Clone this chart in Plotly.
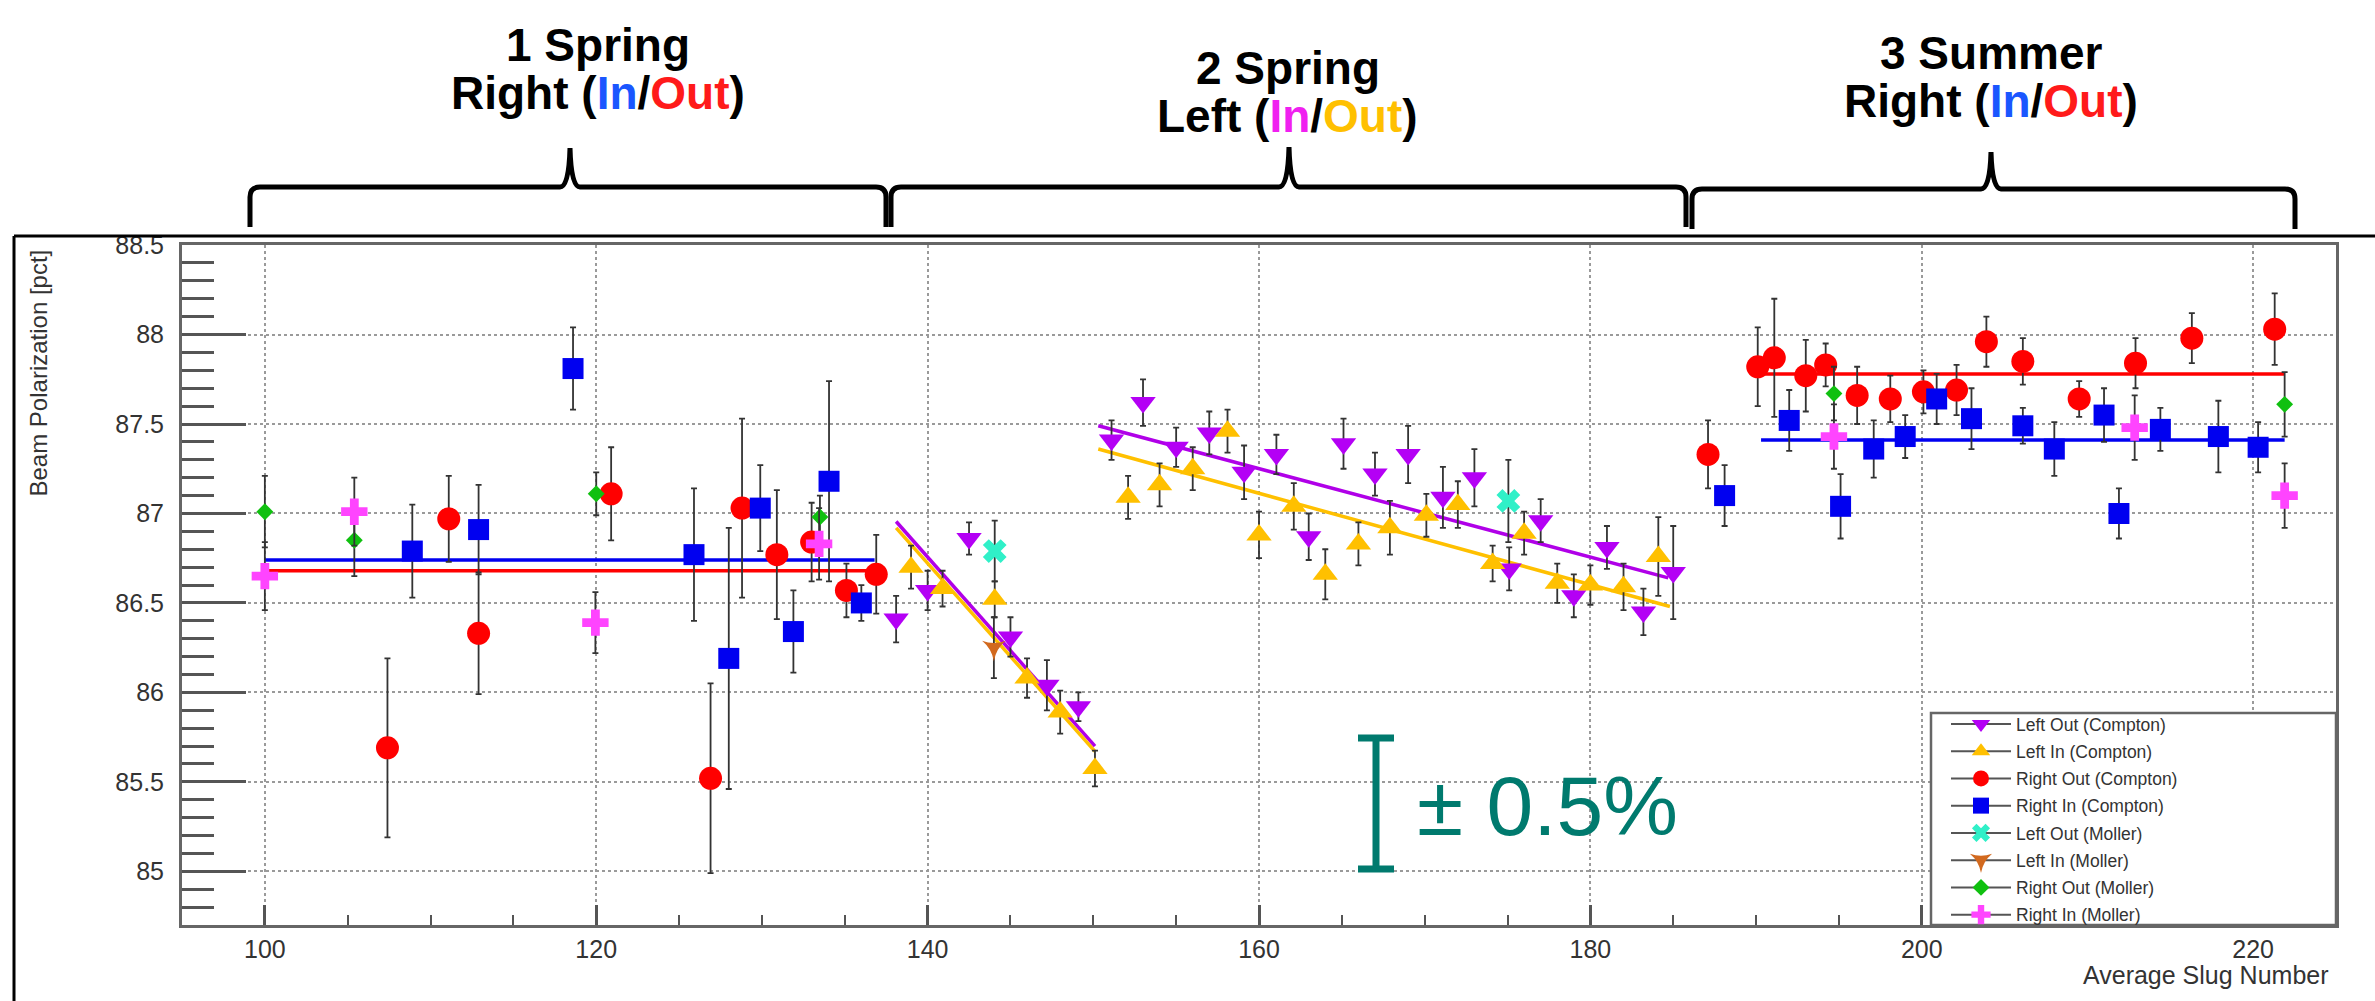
import plotly.graph_objects as go

# ---------------- data ----------------
# Left Out (Compton)
lo_c_x = [138.1, 140.0, 142.5, 145.0, 147.2, 149.1, 151.1, 153.0, 155.0, 157.0, 159.1, 161.05,
          163.0, 165.1, 167.0, 169.0, 171.1, 173.0, 175.1, 177.0, 179.0, 181.0, 183.2, 185.0]
lo_c_y = [86.41, 86.57, 86.86, 86.31, 86.04, 85.92, 87.41, 87.62, 87.37, 87.45, 87.23, 87.33,
          86.87, 87.39, 87.22, 87.33, 87.09, 87.20, 86.69, 86.96, 86.54, 86.81, 86.45, 86.67]
lo_c_e = [0.13, 0.11, 0.09, 0.11, 0.14, 0.08, 0.11, 0.13, 0.11, 0.12, 0.15, 0.11,
          0.13, 0.14, 0.12, 0.16, 0.17, 0.16, 0.12, 0.12, 0.12, 0.12, 0.13, 0.26]
# Left In (Compton)
li_c_x = [139.0, 140.9, 144.05, 146.0, 148.0, 150.1, 152.1, 154.0, 156.0, 158.1, 160.0, 162.1,
          164.0, 166.0, 167.9, 170.1, 172.0, 174.1, 176.0, 178.0, 180.0, 182.0, 184.1]
li_c_y = [86.70, 86.58, 86.52, 86.08, 85.89, 85.575, 87.09, 87.16, 87.25, 87.46, 86.88, 87.04,
          86.66, 86.83, 86.92, 86.99, 87.05, 86.72, 86.89, 86.61, 86.60, 86.59, 86.76]
li_c_e = [0.12, 0.10, 0.10, 0.11, 0.12, 0.10, 0.12, 0.12, 0.12, 0.12, 0.13, 0.13,
          0.14, 0.12, 0.15, 0.12, 0.13, 0.10, 0.12, 0.11, 0.11, 0.13, 0.22]
# Right Out (Compton)
ro_c_x = [107.4, 111.1, 112.9, 120.9, 126.9, 128.8, 130.9, 133.0, 135.1, 136.9,
          187.1, 190.1, 191.1, 193.0, 194.2, 196.1, 198.1, 200.1, 202.1, 203.9, 206.1,
          209.5, 212.9, 216.3, 221.3]
ro_c_y = [85.69, 86.97, 86.33, 87.11, 85.52, 87.03, 86.77, 86.84, 86.57, 86.66,
          87.33, 87.82, 87.87, 87.77, 87.83, 87.66, 87.64, 87.68, 87.69, 87.96, 87.85,
          87.64, 87.84, 87.98, 88.03]
ro_c_e = [0.50, 0.24, 0.34, 0.26, 0.53, 0.50, 0.36, 0.22, 0.15, 0.22,
          0.19, 0.22, 0.33, 0.20, 0.12, 0.16, 0.13, 0.12, 0.14, 0.14, 0.13,
          0.10, 0.14, 0.14, 0.20]
# Right In (Compton)
ri_c_x = [108.9, 112.9, 118.6, 125.9, 128.0, 129.9, 131.9, 134.05, 136.0,
          188.1, 192.0, 195.1, 197.1, 199.0, 200.9, 203.0, 206.1, 208.0, 211.0, 211.9,
          214.4, 217.9, 220.3]
ri_c_y = [86.79, 86.91, 87.81, 86.77, 86.19, 87.03, 86.34, 87.18, 86.50,
          87.10, 87.52, 87.04, 87.36, 87.43, 87.64, 87.53, 87.49, 87.36, 87.55, 87.00,
          87.47, 87.43, 87.37]
ri_c_e = [0.26, 0.25, 0.23, 0.37, 0.73, 0.24, 0.23, 0.56, 0.10,
          0.17, 0.17, 0.18, 0.16, 0.12, 0.14, 0.17, 0.10, 0.15, 0.15, 0.14,
          0.12, 0.20, 0.14]
# Moller
lo_m_x = [144.05, 175.05]
lo_m_y = [86.79, 87.07]
lo_m_e = [0.17, 0.23]
li_m_x = [144.0]
li_m_y = [86.25]
li_m_e = [0.17]
ro_m_x = [100.0, 105.4, 120.0, 133.5, 194.7, 221.9]
ro_m_y = [87.01, 86.85, 87.11, 86.98, 87.67, 87.61]
ro_m_e = [0.20, 0.20, 0.12, 0.12, 0.15, 0.18]
ri_m_x = [100.0, 105.4, 119.95, 133.45, 194.7, 212.85, 221.9]
ri_m_y = [86.65, 87.01, 86.39, 86.83, 87.43, 87.48, 87.10]
ri_m_e = [0.19, 0.19, 0.17, 0.20, 0.18, 0.18, 0.18]

# fit lines: (x start, x end, y start, y end)
fit_names = ["Right In fit 1", "Right Out fit 1", "Left Out fit 2a", "Left In fit 2a",
             "Left Out fit 2b", "Left In fit 2b", "Right Out fit 3", "Right In fit 3"]
fit_x0 = [100.0, 100.0, 138.1, 138.1, 150.3, 150.3, 190.3, 190.3]
fit_x1 = [136.8, 136.8, 150.1, 150.1, 184.7, 184.8, 221.9, 221.9]
fit_y0 = [86.74, 86.68, 86.955, 86.92, 87.49, 87.36, 87.78, 87.41]
fit_y1 = [86.74, 86.68, 85.70, 85.67, 86.64, 86.48, 87.78, 87.41]
fit_colors = ["#0000F0", "#FF0000", "#B000E8", "#FFC000", "#B000E8", "#FFC000", "#FF0000", "#0000F0"]

# ---------------- layout helpers ----------------
W, H = 2375, 1001
L, R, T, B = 182, 39, 245, 76
PW, PH = W - L - R, H - T - B


def px(x):
    return (x - L) / PW


def py(y):
    return (H - B - y) / PH


fig = go.Figure()

for i in range(len(fit_names)):
    fig.add_trace(go.Scatter(x=[fit_x0[i], fit_x1[i]], y=[fit_y0[i], fit_y1[i]], mode="lines",
                             line=dict(color=fit_colors[i], width=3.5), showlegend=False,
                             hoverinfo="skip"))


def series(xs, ys, es, name, symbol, color, size):
    X, Y, E = [], [], []
    for x, y, e in zip(xs, ys, es):
        X += [x, None]
        Y += [y, None]
        E += [e, 0]
    fig.add_trace(go.Scatter(
        x=X, y=Y, mode="lines+markers", name=name, connectgaps=False, legendgroup=name,
        line=dict(color="#555555", width=2),
        marker=dict(symbol=symbol, color=color, size=size, line=dict(width=0)),
        error_y=dict(type="data", array=E, visible=True, color="#333333", thickness=1.8, width=3),
    ))


series(lo_c_x, lo_c_y, lo_c_e, "Left Out (Compton)", "triangle-down", "#B400F5", 22)
series(li_c_x, li_c_y, li_c_e, "Left In (Compton)", "triangle-up", "#FFC000", 22)
series(ro_c_x, ro_c_y, ro_c_e, "Right Out (Compton)", "circle", "#FF0000", 23)
series(ri_c_x, ri_c_y, ri_c_e, "Right In (Compton)", "square", "#0000F0", 21)
series(lo_m_x, lo_m_y, lo_m_e, "Left Out (Moller)", "x", "#30F0C8", 21)
series(li_m_x, li_m_y, li_m_e, "Left In (Moller)", "star-triangle-down", "#D2691E", 17)
series(ro_m_x, ro_m_y, ro_m_e, "Right Out (Moller)", "diamond", "#10C010", 13)
series(ri_m_x, ri_m_y, ri_m_e, "Right In (Moller)", "cross", "#FF44FF", 22)

axis_common = dict(showline=True, linecolor="#666666", linewidth=3, mirror=True, zeroline=False,
                   showgrid=True, gridcolor="#9a9a9a", griddash="dot", gridwidth=1.5,
                   ticks="inside", tickcolor="#555555",
                   tickfont=dict(family="Liberation Sans, Arial", size=25, color="#333333"))

fig.update_layout(
    width=W, height=H, margin=dict(l=L, r=R, t=T, b=B, pad=0),
    plot_bgcolor="white", paper_bgcolor="white",
    font=dict(family="Liberation Sans, Arial", color="#333333"),
    xaxis=dict(range=[95, 225], tickmode="linear", tick0=100, dtick=20, ticklen=20, tickwidth=2.5,
               minor=dict(tick0=100, dtick=5, ticklen=10, tickwidth=2, ticks="inside",
                          tickcolor="#555555", showgrid=False),
               **axis_common),
    yaxis=dict(range=[84.7, 88.5005], tickmode="linear", tick0=85, dtick=0.5, ticklen=64, tickwidth=3,
               ticklabelstandoff=10,
               minor=dict(tick0=85, dtick=0.1, ticklen=32, tickwidth=2.5, ticks="inside",
                          tickcolor="#555555", showgrid=False),
               **axis_common),
    legend=dict(x=px(1946), y=py(706), xanchor="left", yanchor="top",
                bgcolor="rgba(0,0,0,0)", borderwidth=0, tracegroupgap=1.5,
                font=dict(family="Liberation Sans, Arial", size=17.5, color="#333333"),
                itemwidth=60),
    showlegend=True,
)

shapes = []
# outer frame lines (top + left)
shapes.append(dict(type="line", xref="paper", yref="paper", x0=px(14), x1=px(2375), y0=py(236), y1=py(236),
                   line=dict(color="black", width=3)))
shapes.append(dict(type="line", xref="paper", yref="paper", x0=px(14), x1=px(14), y0=py(236), y1=py(1001),
                   line=dict(color="black", width=3)))
# legend box
shapes.append(dict(type="rect", xref="paper", yref="paper", x0=px(1931), x1=1.0, y0=0.0, y1=py(713),
                   fillcolor="white", line=dict(color="#666666", width=2.5), layer="above"))


def brace(x0, x1, xc, ybar, yend, ypeak):
    r = 10
    pts = [
        f"M {px(x0)},{py(yend)}",
        f"L {px(x0)},{py(ybar + r)}",
        f"Q {px(x0)},{py(ybar)} {px(x0 + r)},{py(ybar)}",
        f"L {px(xc - r)},{py(ybar)}",
        f"Q {px(xc - 1)},{py(ybar)} {px(xc)},{py(ypeak)}",
        f"Q {px(xc + 1)},{py(ybar)} {px(xc + r)},{py(ybar)}",
        f"L {px(x1 - r)},{py(ybar)}",
        f"Q {px(x1)},{py(ybar)} {px(x1)},{py(ybar + r)}",
        f"L {px(x1)},{py(yend)}",
    ]
    return dict(type="path", xref="paper", yref="paper", path=" ".join(pts),
                line=dict(color="black", width=5))


shapes.append(brace(250, 886, 570, 187, 227, 148))
shapes.append(brace(891, 1686, 1289, 187, 227, 147))
shapes.append(brace(1692, 2295, 1991, 189, 229, 152))

# +-0.5% scale bar
teal = "#007A6E"
shapes.append(dict(type="line", xref="paper", yref="paper", x0=px(1376), x1=px(1376), y0=py(735), y1=py(872),
                   line=dict(color=teal, width=7)))
shapes.append(dict(type="line", xref="paper", yref="paper", x0=px(1358), x1=px(1394), y0=py(738), y1=py(738),
                   line=dict(color=teal, width=7)))
shapes.append(dict(type="line", xref="paper", yref="paper", x0=px(1358), x1=px(1394), y0=py(869), y1=py(869),
                   line=dict(color=teal, width=7)))
fig.update_layout(shapes=shapes)

BLUE_T, RED_T, MAG_T, GOLD_T = "#1A56FF", "#FF1A1A", "#F020F0", "#FFC000"
TFONT = dict(family="Liberation Sans, Arial", size=46, color="black")
ann = []


def title(xc, y1, y2, line1, line2):
    ann.append(dict(xref="paper", yref="paper", x=px(xc), y=py(y1), xanchor="center", yanchor="middle",
                    showarrow=False, text=f"<b>{line1}</b>", font=TFONT))
    ann.append(dict(xref="paper", yref="paper", x=px(xc), y=py(y2), xanchor="center", yanchor="middle",
                    showarrow=False, text=f"<b>{line2}</b>", font=TFONT))


title(598, 45, 93, "1 Spring",
      f"Right (<span style='color:{BLUE_T}'>In</span>/<span style='color:{RED_T}'>Out</span>)")
title(1288, 68, 116, "2 Spring",
      f"Left (<span style='color:{MAG_T}'>In</span>/<span style='color:{GOLD_T}'>Out</span>)")
title(1991, 53, 101, "3 Summer",
      f"Right (<span style='color:{BLUE_T}'>In</span>/<span style='color:{RED_T}'>Out</span>)")

ann.append(dict(xref="paper", yref="paper", x=px(1415), y=py(806), xanchor="left", yanchor="middle",
                showarrow=False, text="± 0.5%",
                font=dict(family="Liberation Sans, Arial", size=84, color=teal)))
ann.append(dict(xref="paper", yref="paper", x=px(38), y=py(248), xanchor="center", yanchor="top",
                showarrow=False, text="Beam Polarization [pct]", textangle=-90,
                font=dict(family="Liberation Sans, Arial", size=24, color="#333333")))
ann.append(dict(xref="paper", yref="paper", x=px(2331), y=py(975), xanchor="right", yanchor="middle",
                showarrow=False, text="Average Slug Number",
                font=dict(family="Liberation Sans, Arial", size=25, color="#333333")))
fig.update_layout(annotations=ann)

fig.write_html("out.html")
